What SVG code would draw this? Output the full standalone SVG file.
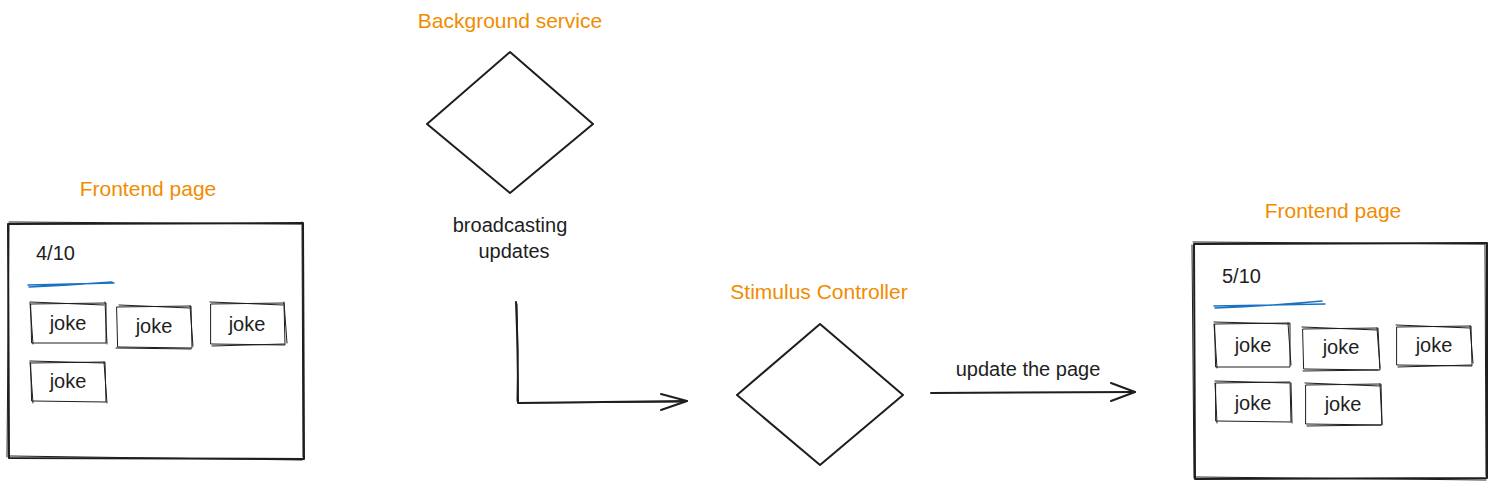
<svg xmlns="http://www.w3.org/2000/svg" width="1497" height="488" viewBox="0 0 1497 488">
<defs>
<style>
.t{font-family:"Liberation Sans","Noto Sans",sans-serif;font-size:20px;fill:#1e1e1e;text-anchor:middle}
.o{fill:#f08c00;font-size:21px}
.s{fill:none;stroke:#1e1e1e;stroke-width:2;stroke-linecap:round;stroke-linejoin:round}
.thin{fill:none;stroke:#1e1e1e;stroke-width:1;stroke-linecap:round}
.b{fill:none;stroke:#1971c2;stroke-width:1.5;stroke-linecap:round}
</style>
</defs>
<rect width="1497" height="488" fill="#ffffff"/>

<g id="frame-left">
<text class="t o" x="148" y="196">Frontend page</text>
<path class="s" d="M8 224 L303 223 L304 459 L9 458 Z"/>
<path class="thin" d="M9 222 L301 224 M302 222 L303 457 M302 460 L10 456 M7 457 L9 225"/>
<text class="t" x="36" y="260" style="text-anchor:start">4/10</text>
<path class="b" d="M28 285 Q70 284 114 283 M29 287 Q72 285 112 282"/>
</g>

<g id="jokes-left">
<g><path class="thin" d="M31 304 L106 303 L106 343 L32 343 Z M30 302 L104 305 M105 302 L107 344 M33 344 L30 303"/><text class="t" x="68" y="330">joke</text></g>
<g><path class="thin" d="M117 307 L191 306 L192 348 L118 347 Z M119 305 L190 308 M190 306 L193 346 M116 348 L191 349"/><text class="t" x="154" y="333">joke</text></g>
<g><path class="thin" d="M211 304 L284 303 L285 345 L211 344 Z M210 302 L283 305 M284 302 L287 343 M212 346 L284 344"/><text class="t" x="247" y="331">joke</text></g>
<g><path class="thin" d="M31 363 L105 362 L106 402 L32 401 Z M30 361 L104 363 M104 362 L107 403 M33 403 L30 362"/><text class="t" x="68" y="388">joke</text></g>
</g>

<g id="background-service">
<text class="t o" x="510" y="28">Background service</text>
<path class="s" d="M510 52 L593 124 L510 193 L427 124 Z"/>
<text class="t" x="510" y="232">broadcasting</text>
<text class="t" x="514" y="258">updates</text>
</g>

<g id="stimulus-controller">
<text class="t o" x="819" y="299">Stimulus Controller</text>
<path class="s" d="M820 324 L903 395 L820 465 L737 395 Z"/>
</g>

<g id="frame-right">
<text class="t o" x="1333" y="218">Frontend page</text>
<path class="s" d="M1194 244 L1487 243 L1487 478 L1195 479 Z"/>
<path class="thin" d="M1193 242 L1485 244 M1485 245 L1486 476 M1486 480 L1196 477 M1194 478 L1192 245"/>
<text class="t" x="1222" y="283" style="text-anchor:start">5/10</text>
<path class="b" d="M1214 306 Q1270 305 1325 304 M1215 308 Q1268 306 1322 301"/>
</g>

<g id="jokes-right">
<g><path class="thin" d="M1215 324 L1290 323 L1290 367 L1216 367 Z M1214 322 L1289 324 M1288 323 L1291 365 M1217 368 L1214 324"/><text class="t" x="1253" y="352">joke</text></g>
<g><path class="thin" d="M1303 329 L1378 328 L1380 370 L1304 369 Z M1302 327 L1377 330 M1377 328 L1380 368 M1303 371 L1378 370"/><text class="t" x="1341" y="354">joke</text></g>
<g><path class="thin" d="M1397 327 L1471 326 L1472 366 L1397 365 Z M1396 325 L1470 328 M1470 326 L1473 363 M1398 367 L1471 365"/><text class="t" x="1434" y="352">joke</text></g>
<g><path class="thin" d="M1216 383 L1290 382 L1291 422 L1216 421 Z M1215 381 L1289 383 M1291 383 L1292 423 M1217 423 L1215 383"/><text class="t" x="1253" y="410">joke</text></g>
<g><path class="thin" d="M1306 385 L1381 384 L1382 425 L1306 424 Z M1305 383 L1380 386 M1380 384 L1382 424 M1307 426 L1381 425"/><text class="t" x="1343" y="411">joke</text></g>
</g>

<g id="connectors">
<path class="s" d="M516 302 Q518 350 518 403 L687 401"/>
<path class="thin" d="M517 304 Q519 352 517 401 M519 403 L685 402"/>
<path class="s" d="M661 394 L687 401 L661 410"/>
<path class="s" d="M931 393 L1135 392"/>
<path class="s" d="M1111 383 L1135 392 L1111 401"/>
<text class="t" x="1028" y="376">update the page</text>
</g>
</svg>
